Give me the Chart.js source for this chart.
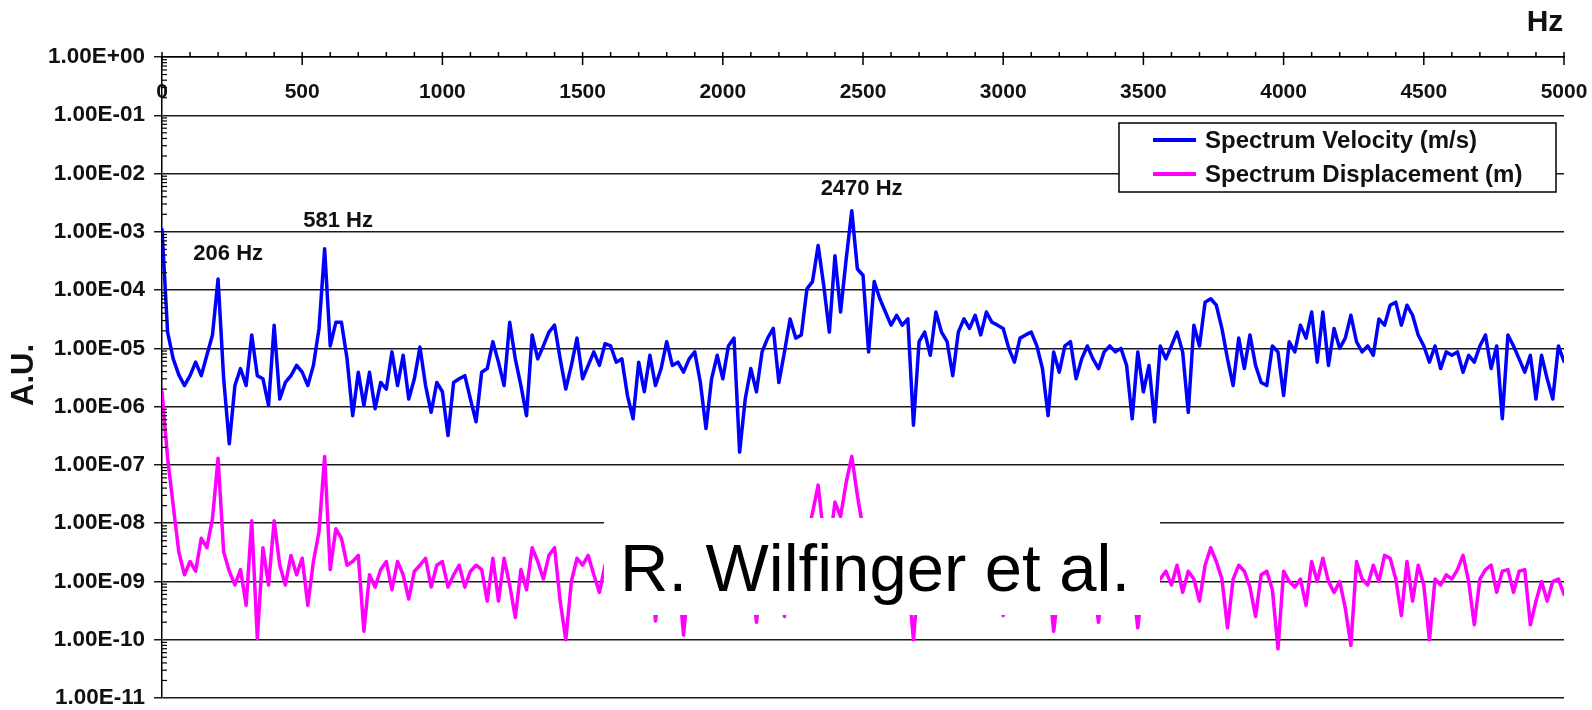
<!DOCTYPE html>
<html lang="en">

<head>
    <meta charset="UTF-8" />
    <title>Spectrum Velocity / Displacement</title>
    <script src="https://cdn.jsdelivr.net/npm/chart.js@4.4.0/dist/chart.umd.min.js"></script>
    <style type="text/css">
        body {
            margin: 0;
            background: #fff;
        }
    </style>
</head>

<body>
    <canvas id="myChart" width="1592" height="710"></canvas>

    <script>
        // frequency (Hz), every 20 Hz
        const freq = [
            0, 20, 40, 60, 80, 100, 120, 140, 160, 180,
            200, 220, 240, 260, 280, 300, 320, 340, 360, 380,
            400, 420, 440, 460, 480, 500, 520, 540, 560, 580,
            600, 620, 640, 660, 680, 700, 720, 740, 760, 780,
            800, 820, 840, 860, 880, 900, 920, 940, 960, 980,
            1000, 1020, 1040, 1060, 1080, 1100, 1120, 1140, 1160, 1180,
            1200, 1220, 1240, 1260, 1280, 1300, 1320, 1340, 1360, 1380,
            1400, 1420, 1440, 1460, 1480, 1500, 1520, 1540, 1560, 1580,
            1600, 1620, 1640, 1660, 1680, 1700, 1720, 1740, 1760, 1780,
            1800, 1820, 1840, 1860, 1880, 1900, 1920, 1940, 1960, 1980,
            2000, 2020, 2040, 2060, 2080, 2100, 2120, 2140, 2160, 2180,
            2200, 2220, 2240, 2260, 2280, 2300, 2320, 2340, 2360, 2380,
            2400, 2420, 2440, 2460, 2480, 2500, 2520, 2540, 2560, 2580,
            2600, 2620, 2640, 2660, 2680, 2700, 2720, 2740, 2760, 2780,
            2800, 2820, 2840, 2860, 2880, 2900, 2920, 2940, 2960, 2980,
            3000, 3020, 3040, 3060, 3080, 3100, 3120, 3140, 3160, 3180,
            3200, 3220, 3240, 3260, 3280, 3300, 3320, 3340, 3360, 3380,
            3400, 3420, 3440, 3460, 3480, 3500, 3520, 3540, 3560, 3580,
            3600, 3620, 3640, 3660, 3680, 3700, 3720, 3740, 3760, 3780,
            3800, 3820, 3840, 3860, 3880, 3900, 3920, 3940, 3960, 3980,
            4000, 4020, 4040, 4060, 4080, 4100, 4120, 4140, 4160, 4180,
            4200, 4220, 4240, 4260, 4280, 4300, 4320, 4340, 4360, 4380,
            4400, 4420, 4440, 4460, 4480, 4500, 4520, 4540, 4560, 4580,
            4600, 4620, 4640, 4660, 4680, 4700, 4720, 4740, 4760, 4780,
            4800, 4820, 4840, 4860, 4880, 4900, 4920, 4940, 4960, 4980,
            5000
        ];

        const velocity = [
            1.1e-3, 1.9e-5, 6.6e-6, 3.5e-6, 2.3e-6, 3.4e-6, 5.8e-6, 3.4e-6, 7.6e-6, 1.7e-5,
            1.55e-4, 3.0e-6, 2.3e-7, 2.3e-6, 4.5e-6, 2.3e-6, 1.7e-5, 3.4e-6, 3.0e-6, 1.05e-6,
            2.5e-5, 1.35e-6, 2.6e-6, 3.4e-6, 5.1e-6, 3.9e-6, 2.3e-6, 5.1e-6, 2.2e-5, 5.1e-4,
            1.1e-5, 2.8e-5, 2.8e-5, 6.6e-6, 7.0e-7, 3.9e-6, 1.05e-6, 3.9e-6, 9.2e-7, 2.6e-6,
            2.0e-6, 8.7e-6, 2.3e-6, 7.6e-6, 1.35e-6, 3.0e-6, 1.05e-5, 2.3e-6, 8.0e-7, 2.6e-6,
            1.8e-6, 3.2e-7, 2.6e-6, 3.0e-6, 3.4e-6, 1.35e-6, 5.5e-7, 3.9e-6, 4.5e-6, 1.3e-5,
            5.8e-6, 2.3e-6, 2.8e-5, 6.6e-6, 2.3e-6, 7.0e-7, 1.7e-5, 6.6e-6, 1.1e-5, 1.9e-5,
            2.5e-5, 6.6e-6, 2.0e-6, 5.1e-6, 1.5e-5, 3.0e-6, 5.1e-6, 8.7e-6, 5.1e-6, 1.2e-5,
            1.1e-5, 5.8e-6, 6.6e-6, 1.55e-6, 6.2e-7, 5.8e-6, 1.8e-6, 7.6e-6, 2.3e-6, 4.5e-6,
            1.3e-5, 5.1e-6, 5.8e-6, 3.9e-6, 6.6e-6, 8.7e-6, 2.6e-6, 4.2e-7, 3.0e-6, 7.6e-6,
            3.0e-6, 1.1e-5, 1.5e-5, 1.66e-7, 1.35e-6, 4.5e-6, 1.8e-6, 8.7e-6, 1.5e-5, 2.2e-5,
            2.6e-6, 8.7e-6, 3.2e-5, 1.5e-5, 1.7e-5, 1.05e-4, 1.4e-4, 5.8e-4, 1.2e-4, 1.9e-5,
            3.9e-4, 4.2e-5, 3.4e-4, 2.3e-3, 2.3e-4, 1.8e-4, 8.7e-6, 1.4e-4, 7.1e-5, 4.2e-5,
            2.5e-5, 3.7e-5, 2.5e-5, 3.2e-5, 4.8e-7, 1.3e-5, 1.9e-5, 7.6e-6, 4.2e-5, 1.9e-5,
            1.3e-5, 3.4e-6, 1.9e-5, 3.2e-5, 2.2e-5, 3.7e-5, 1.7e-5, 4.2e-5, 2.8e-5, 2.5e-5,
            2.2e-5, 1.0e-5, 5.8e-6, 1.5e-5, 1.7e-5, 1.9e-5, 1.1e-5, 4.5e-6, 7.0e-7, 8.7e-6,
            3.9e-6, 1.1e-5, 1.3e-5, 3.0e-6, 6.6e-6, 1.1e-5, 6.6e-6, 4.5e-6, 8.7e-6, 1.1e-5,
            8.7e-6, 1.0e-5, 5.1e-6, 6.2e-7, 8.7e-6, 1.8e-6, 5.1e-6, 5.5e-7, 1.1e-5, 6.6e-6,
            1.1e-5, 1.9e-5, 8.7e-6, 8.0e-7, 2.5e-5, 1.1e-5, 6.2e-5, 7.1e-5, 5.5e-5, 2.2e-5,
            6.6e-6, 2.3e-6, 1.5e-5, 4.5e-6, 1.7e-5, 5.1e-6, 2.6e-6, 2.3e-6, 1.1e-5, 8.7e-6,
            1.55e-6, 1.3e-5, 8.7e-6, 2.5e-5, 1.5e-5, 4.2e-5, 5.8e-6, 4.2e-5, 5.1e-6, 2.2e-5,
            1.0e-5, 1.5e-5, 3.7e-5, 1.3e-5, 8.7e-6, 1.1e-5, 7.6e-6, 3.2e-5, 2.5e-5, 5.5e-5,
            6.2e-5, 2.5e-5, 5.5e-5, 3.7e-5, 1.7e-5, 1.1e-5, 5.8e-6, 1.1e-5, 4.5e-6, 8.7e-6,
            7.6e-6, 8.7e-6, 3.9e-6, 7.6e-6, 5.8e-6, 1.1e-5, 1.7e-5, 4.5e-6, 1.1e-5, 6.2e-7,
            1.7e-5, 1.1e-5, 6.6e-6, 3.9e-6, 7.6e-6, 1.35e-6, 7.6e-6, 3.0e-6, 1.35e-6, 1.1e-5,
            6.0e-6
        ];

        const displacement = [
            1.8e-6, 1.3e-7, 2.0e-8, 3.2e-9, 1.3e-9, 2.2e-9, 1.5e-9, 5.5e-9, 3.8e-9, 1.2e-8,
            1.3e-7, 3.2e-9, 1.5e-9, 8.7e-10, 1.6e-9, 3.9e-10, 1.1e-8, 1.05e-10, 3.8e-9, 8.7e-10,
            1.1e-8, 1.9e-9, 8.7e-10, 2.8e-9, 1.3e-9, 2.5e-9, 3.9e-10, 2.2e-9, 7.2e-9, 1.4e-7,
            1.6e-9, 8.0e-9, 5.5e-9, 1.9e-9, 2.2e-9, 2.8e-9, 1.4e-10, 1.3e-9, 8.0e-10, 1.6e-9,
            2.2e-9, 7.2e-10, 2.2e-9, 1.3e-9, 5.0e-10, 1.5e-9, 1.9e-9, 2.5e-9, 8.0e-10, 1.9e-9,
            2.2e-9, 8.0e-10, 1.3e-9, 1.9e-9, 8.0e-10, 1.5e-9, 1.9e-9, 1.6e-9, 4.6e-10, 2.5e-9,
            4.6e-10, 2.5e-9, 8.7e-10, 2.4e-10, 1.6e-9, 7.2e-10, 3.8e-9, 2.2e-9, 1.1e-9, 2.8e-9,
            3.8e-9, 4.6e-10, 1.0e-10, 1.0e-9, 2.5e-9, 1.9e-9, 2.8e-9, 1.3e-9, 6.5e-10, 1.9e-9,
            1.5e-9, 8.0e-10, 2.2e-9, 1.2e-9, 6.0e-10, 1.8e-9, 1.0e-9, 2.5e-9, 2.1e-10, 1.3e-9,
            2.0e-9, 9.0e-10, 1.6e-9, 1.2e-10, 1.4e-9, 2.4e-9, 1.0e-9, 1.8e-9, 7.0e-10, 1.5e-9,
            2.2e-9, 1.1e-9, 1.7e-9, 6.0e-10, 1.3e-9, 1.9e-9, 2.0e-10, 1.4e-9, 2.6e-9, 1.5e-9,
            1.0e-9, 2.5e-10, 2.0e-9, 3.5e-9, 2.8e-9, 6.0e-9, 1.5e-8, 4.5e-8, 6.0e-9, 4.0e-9,
            2.3e-8, 1.3e-8, 5.0e-8, 1.4e-7, 3.0e-8, 8.0e-9, 3.0e-9, 1.0e-8, 5.0e-9, 3.0e-9,
            2.0e-9, 1.5e-9, 3.0e-9, 1.2e-9, 1.0e-10, 1.5e-9, 2.5e-9, 1.0e-9, 3.0e-9, 1.8e-9,
            1.4e-9, 6.0e-10, 1.8e-9, 2.6e-9, 1.9e-9, 3.0e-9, 1.2e-9, 2.8e-9, 2.0e-9, 1.6e-9,
            2.6e-10, 1.2e-9, 7.0e-10, 1.5e-9, 1.8e-9, 2.0e-9, 1.1e-9, 6.0e-10, 1.3e-9, 1.4e-10,
            9.0e-10, 1.6e-9, 1.8e-9, 6.0e-10, 1.2e-9, 1.6e-9, 1.0e-9, 2.0e-10, 1.4e-9, 1.6e-9,
            1.3e-9, 1.5e-9, 9.0e-10, 1.1e-9, 1.6e-10, 1.2e-9, 8.0e-10, 1.4e-9, 1.1e-9, 1.5e-9,
            8.7e-10, 1.9e-9, 6.5e-10, 1.5e-9, 1.1e-9, 4.6e-10, 1.9e-9, 3.8e-9, 2.2e-9, 1.1e-9,
            1.6e-10, 1.1e-9, 1.9e-9, 1.5e-9, 8.0e-10, 2.5e-10, 1.3e-9, 1.5e-9, 7.2e-10, 7.0e-11,
            1.5e-9, 1.0e-9, 8.0e-10, 1.1e-9, 3.9e-10, 2.2e-9, 1.0e-9, 2.5e-9, 1.0e-9, 6.5e-10,
            1.0e-9, 3.5e-10, 8.0e-11, 2.2e-9, 1.1e-9, 8.7e-10, 1.9e-9, 1.0e-9, 2.8e-9, 2.5e-9,
            1.1e-9, 2.6e-10, 2.2e-9, 4.6e-10, 1.9e-9, 8.7e-10, 1.0e-10, 1.1e-9, 8.7e-10, 1.3e-9,
            1.1e-9, 1.6e-9, 2.8e-9, 1.0e-9, 1.8e-10, 1.1e-9, 1.6e-9, 1.9e-9, 6.5e-10, 1.5e-9,
            1.6e-9, 6.5e-10, 1.5e-9, 1.6e-9, 1.8e-10, 4.6e-10, 1.0e-9, 4.6e-10, 1.0e-9, 1.1e-9,
            6.0e-10
        ];

        // axis ticks
        const xTicks = [0, 500, 1000, 1500, 2000, 2500, 3000, 3500, 4000, 4500, 5000];
        const yTicks = [1e0, 1e-1, 1e-2, 1e-3, 1e-4, 1e-5, 1e-6, 1e-7, 1e-8, 1e-9, 1e-10, 1e-11];
        const yTickLabels = ['1.00E+00', '1.00E-01', '1.00E-02', '1.00E-03', '1.00E-04', '1.00E-05',
            '1.00E-06', '1.00E-07', '1.00E-08', '1.00E-09', '1.00E-10', '1.00E-11'];

        // peak notes, anchored in data coordinates
        const peakNotes = [
            { text: '206 Hz', x: 236, y: 4.2e-4 },
            { text: '581 Hz', x: 628, y: 1.55e-3 },
            { text: '2470 Hz', x: 2495, y: 5.4e-3 }
        ];

        const FONT = "'Liberation Sans', Arial, sans-serif";

        const decorations = {
            id: 'decorations',
            afterDraw(chart) {
                const c = chart.ctx;
                const xs = chart.scales.x;
                const ys = chart.scales.y;
                const area = chart.chartArea;
                c.save();
                c.strokeStyle = '#000';
                c.lineWidth = 1.5;

                // x axis ticks (on top) - minor every 100 Hz
                for (let i = 0; i < xTicks.length; i++) {
                    const px = xs.getPixelForValue(xTicks[i]);
                    c.beginPath();
                    c.moveTo(px, area.top - 5);
                    c.lineTo(px, area.top + 8);
                    c.stroke();
                    if (i < xTicks.length - 1) {
                        const step = (xTicks[i + 1] - xTicks[i]) / 5;
                        for (let k = 1; k < 5; k++) {
                            const mx = xs.getPixelForValue(xTicks[i] + k * step);
                            c.beginPath();
                            c.moveTo(mx, area.top - 5);
                            c.lineTo(mx, area.top);
                            c.stroke();
                        }
                    }
                }

                // y minor ticks inside the plot
                c.lineWidth = 1.2;
                for (let i = 1; i < yTicks.length; i++) {
                    for (let k = 2; k <= 9; k++) {
                        const py = ys.getPixelForValue(yTicks[i] * k);
                        c.beginPath();
                        c.moveTo(area.left, py);
                        c.lineTo(area.left + 5, py);
                        c.stroke();
                    }
                }

                // x tick labels below the axis line
                c.fillStyle = '#111';
                c.font = 'bold 21px ' + FONT;
                c.textAlign = 'center';
                c.textBaseline = 'middle';
                xTicks.forEach(v => {
                    c.fillText(String(v), xs.getPixelForValue(v), area.top + 35);
                });

                // axis titles
                c.font = 'bold 30px ' + FONT;
                c.fillText('Hz', 1545, 23);
                c.save();
                c.translate(24, 375);
                c.rotate(-Math.PI / 2);
                c.font = 'bold 31px ' + FONT;
                c.fillText('A.U.', 0, 0);
                c.restore();

                // peak notes
                c.font = 'bold 22px ' + FONT;
                peakNotes.forEach(n => {
                    c.fillText(n.text, xs.getPixelForValue(n.x), ys.getPixelForValue(n.y));
                });

                // legend box
                const lx = 1119, ly = 123, lw = 437, lh = 69;
                c.fillStyle = '#fff';
                c.fillRect(lx, ly, lw, lh);
                c.strokeStyle = '#000';
                c.lineWidth = 1.5;
                c.strokeRect(lx, ly, lw, lh);
                c.font = 'bold 24px ' + FONT;
                c.textAlign = 'left';
                chart.data.datasets.forEach((ds, i) => {
                    const y = ly + 17 + i * 34;
                    c.strokeStyle = ds.borderColor;
                    c.lineWidth = 4;
                    c.beginPath();
                    c.moveTo(lx + 34, y);
                    c.lineTo(lx + 77, y);
                    c.stroke();
                    c.fillStyle = '#111';
                    c.fillText(ds.label, lx + 86, y + 1);
                });

                // white credit box over the lower curve
                c.fillStyle = '#fff';
                c.fillRect(604, 518, 556, 97);
                c.fillStyle = '#000';
                c.font = '67px ' + FONT;
                c.textBaseline = 'alphabetic';
                c.fillText('R. Wilfinger et al.', 620, 591);
                c.restore();
            }
        };

        const ctx = document.getElementById('myChart').getContext('2d');
        const myChart = new Chart(ctx, {
            type: 'line',
            data: {
                datasets: [{
                    label: 'Spectrum Velocity (m/s)',
                    data: freq.map((f, i) => ({ x: f, y: velocity[i] })),
                    borderColor: '#0000ff',
                    borderWidth: 3.5,
                    borderJoinStyle: 'round',
                    borderCapStyle: 'round',
                    pointRadius: 0,
                    tension: 0
                }, {
                    label: 'Spectrum Displacement (m)',
                    data: freq.map((f, i) => ({ x: f, y: displacement[i] })),
                    borderColor: '#ff00ff',
                    borderWidth: 3.5,
                    borderJoinStyle: 'round',
                    borderCapStyle: 'round',
                    pointRadius: 0,
                    tension: 0
                }]
            },
            options: {
                responsive: false,
                animation: false,
                layout: { padding: { left: 0, top: 0, right: 28, bottom: 12 } },
                plugins: {
                    legend: { display: false },
                    tooltip: { enabled: false }
                },
                scales: {
                    x: {
                        type: 'linear',
                        position: 'top',
                        min: 0,
                        max: 5000,
                        ticks: { display: false, stepSize: 500 },
                        grid: { display: false },
                        border: { display: true, color: '#000', width: 1.5 },
                        afterFit: s => { s.height = 57; s.paddingLeft = 0; s.paddingRight = 0; }
                    },
                    y: {
                        type: 'logarithmic',
                        min: 1e-11,
                        max: 1,
                        afterBuildTicks: s => { s.ticks = yTicks.map(v => ({ value: v })); },
                        ticks: {
                            callback: (v) => yTickLabels[yTicks.indexOf(v)] || '',
                            font: { family: FONT, size: 22.5, weight: 'bold' },
                            color: '#111',
                            padding: 9,
                            autoSkip: false
                        },
                        grid: { color: '#1a1a1a', lineWidth: 1.5, tickLength: 8 },
                        border: { color: '#000', width: 1.5 },
                        afterFit: s => { s.width = 162; s.paddingTop = 0; s.paddingBottom = 0; }
                    }
                }
            },
            plugins: [decorations]
        });
    </script>
</body>

</html>
